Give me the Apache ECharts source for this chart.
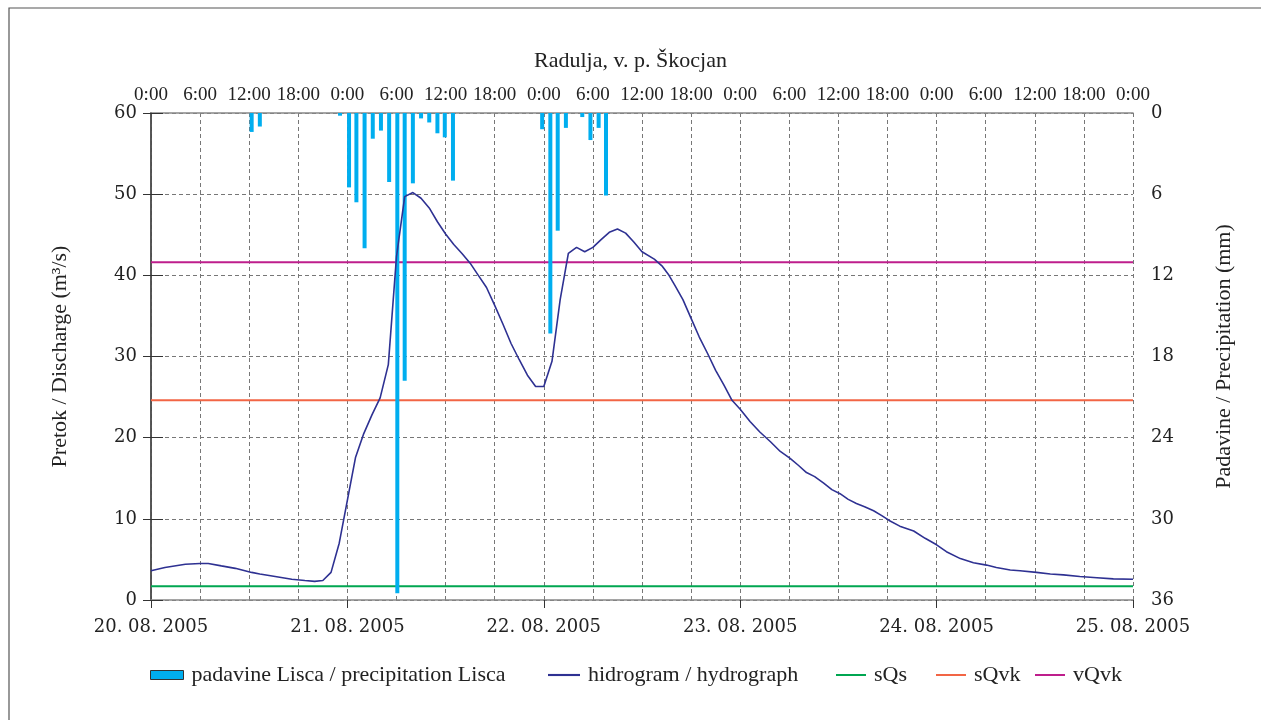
<!DOCTYPE html>
<html>
<head>
<meta charset="utf-8">
<script src="https://cdn.jsdelivr.net/npm/echarts@6/dist/echarts.min.js"></script>
<style>
html, body { margin: 0; padding: 0; background: #fff; }
#main { width: 1261px; height: 720px; }
</style>
</head>
<body>
<div id="main"></div>
<script>
// hours from 20.08.2005 0:00
var qHours = [0, 1.7, 4.2, 6, 7, 8.6, 10.3, 12.3, 13.3, 14.8, 17.2, 18.8, 20, 21, 22, 23, 24, 25, 26, 27, 28, 29, 30, 31, 32, 33, 34, 35, 36, 37, 38, 39, 40, 41, 42, 43, 44, 45, 46, 47, 48, 49, 50, 51, 52, 53, 54, 55, 56, 57, 58, 59, 60, 61.5, 62.5, 63.3, 64, 65, 66, 67, 68, 69, 70, 71, 72, 73.2, 74.4, 75.7, 76.9, 78.1, 79.1, 80.1, 81.1, 82.2, 83.2, 84.2, 85.2, 86.2, 87.2, 88.3, 89.3, 90.2, 91.5, 93.2, 94.6, 96, 97.2, 98.9, 100.5, 102.1, 103.3, 105, 106.2, 108.2, 109.9, 111.5, 113.5, 115.6, 117.6, 120];
var qValues = [3.6, 4.0, 4.4, 4.5, 4.5, 4.2, 3.9, 3.4, 3.2, 2.95, 2.55, 2.4, 2.3, 2.4, 3.4, 7.0, 12.3, 17.6, 20.5, 22.8, 24.9, 29.0, 42.3, 49.7, 50.2, 49.5, 48.3, 46.6, 45.1, 43.8, 42.7, 41.5, 40.0, 38.5, 36.3, 34.0, 31.6, 29.6, 27.7, 26.3, 26.3, 29.4, 37.0, 42.7, 43.45, 42.9, 43.45, 44.4, 45.3, 45.7, 45.2, 44.1, 42.9, 42.0, 41.1, 40.0, 38.8, 37.0, 34.7, 32.4, 30.4, 28.3, 26.5, 24.6, 23.5, 22.0, 20.7, 19.5, 18.3, 17.45, 16.6, 15.7, 15.2, 14.4, 13.6, 13.1, 12.4, 11.9, 11.5, 11.0, 10.4, 9.8, 9.1, 8.5, 7.6, 6.8, 5.95, 5.1, 4.6, 4.3, 4.0, 3.7, 3.6, 3.4, 3.2, 3.1, 2.9, 2.75, 2.6, 2.55];

var pHours = [12.3, 13.3, 23.1, 24.2, 25.1, 26.1, 27.1, 28.1, 29.1, 30.1, 31.0, 32.0, 33.0, 34.0, 35.0, 35.9, 36.9, 47.8, 48.8, 49.7, 50.7, 52.7, 53.7, 54.7, 55.6];
var pValues = [1.4, 1.0, 0.2, 5.5, 6.6, 10.0, 1.9, 1.3, 5.1, 35.5, 19.8, 5.2, 0.4, 0.7, 1.5, 1.8, 5.0, 1.2, 16.3, 8.7, 1.1, 0.3, 2.0, 1.1, 6.1];

var sQs = 1.7;
var sQvk = 24.6;
var vQvk = 41.6;

var dayLabels = ['20. 08. 2005', '21. 08. 2005', '22. 08. 2005', '23. 08. 2005', '24. 08. 2005', '25. 08. 2005'];
var hourLabels = ['0:00', '6:00', '12:00', '18:00'];

var serif = 'Liberation Serif';
var numFont = 'DejaVu Serif';
var lineIcon = 'path://M0,0L30,0L30,2L0,2Z';

function pairs(xs, ys) {
	var out = [];
	for (var i = 0; i < xs.length; i++) {
		out.push([xs[i], ys[i]]);
	}
	return out;
}

function legendAt(left, item, w) {
	return {
		left: left,
		top: 664,
		padding: 0,
		itemWidth: w,
		itemHeight: 9,
		symbolKeepAspect: true,
		textStyle: { fontFamily: serif, fontSize: 22, color: '#222', padding: [0, 0, 0, 3] },
		data: [item]
	};
}

var chart = echarts.init(document.getElementById('main'));
chart.setOption({
	animation: false,
	backgroundColor: '#fff',
	title: {
		text: 'Radulja, v. p. Škocjan',
		left: 'center',
		top: 45,
		textStyle: { fontFamily: serif, fontSize: 22, fontWeight: 'normal', color: '#222' }
	},
	graphic: [{
		type: 'rect',
		shape: { x: 9, y: 8, width: 1400, height: 900 },
		style: { fill: 'none', stroke: '#555', lineWidth: 1.2 }
	}],
	grid: { left: 151, right: 128, top: 113, bottom: 120 },
	legend: [
		legendAt(150, { name: 'padavine Lisca / precipitation Lisca', icon: 'rect', itemStyle: { borderColor: '#333', borderWidth: 1 } }, 33),
		legendAt(548, { name: 'hidrogram / hydrograph', icon: lineIcon }, 32),
		legendAt(836, { name: 'sQs', icon: lineIcon }, 30),
		legendAt(936, { name: 'sQvk', icon: lineIcon }, 30),
		legendAt(1035, { name: 'vQvk', icon: lineIcon }, 30)
	],
	xAxis: [{
		type: 'value',
		position: 'bottom',
		min: 0,
		max: 120,
		interval: 24,
		axisLine: { lineStyle: { color: '#888', width: 1.5 } },
		axisTick: { show: true, length: 8, lineStyle: { color: '#333' } },
		axisLabel: {
			margin: 18,
			fontFamily: numFont,
			fontSize: 18,
			color: '#222',
			formatter: function (v) { return dayLabels[Math.round(v / 24)]; }
		},
		splitLine: { show: false }
	}, {
		type: 'value',
		position: 'top',
		min: 0,
		max: 120,
		interval: 6,
		axisLine: { lineStyle: { color: '#888', width: 1.5 } },
		axisTick: { show: false },
		axisLabel: {
			margin: 8,
			fontFamily: serif,
			fontSize: 19,
			color: '#222',
			formatter: function (v) { return hourLabels[Math.round(v / 6) % 4]; }
		},
		splitLine: { show: true, lineStyle: { color: '#777', type: [4, 3], width: 1 } }
	}],
	yAxis: [{
		type: 'value',
		position: 'left',
		min: 0,
		max: 60,
		interval: 10,
		name: 'Pretok / Discharge (m³/s)',
		nameLocation: 'middle',
		nameGap: 80,
		nameTextStyle: { fontFamily: serif, fontSize: 22, color: '#222' },
		axisLine: { show: true, lineStyle: { color: '#333', width: 1.5 } },
		axisTick: { show: true, length: 8, lineStyle: { color: '#333' } },
		axisLabel: { margin: 14, fontFamily: numFont, fontSize: 18, color: '#222' },
		splitLine: { show: true, lineStyle: { color: '#777', type: [4, 3], width: 1 } }
	}, {
		type: 'value',
		position: 'right',
		min: 0,
		max: 36,
		interval: 6,
		inverse: true,
		name: 'Padavine / Precipitation (mm)',
		nameLocation: 'middle',
		nameGap: 80,
		nameRotate: 90,
		nameTextStyle: { fontFamily: serif, fontSize: 22, color: '#222' },
		axisLine: { show: true, lineStyle: { color: '#555', width: 1.5 } },
		axisTick: { show: true, length: 12, lineStyle: { color: '#333' } },
		axisLabel: { margin: 18, fontFamily: numFont, fontSize: 18, color: '#222' },
		splitLine: { show: false }
	}],
	series: [{
		name: 'padavine Lisca / precipitation Lisca',
		type: 'bar',
		xAxisIndex: 0,
		yAxisIndex: 1,
		barWidth: 4,
		itemStyle: { color: '#00AEEF' },
		data: pairs(pHours, pValues),
		z: 3
	}, {
		name: 'hidrogram / hydrograph',
		type: 'line',
		xAxisIndex: 0,
		yAxisIndex: 0,
		symbol: 'none',
		lineStyle: { color: '#2E3192', width: 1.6 },
		itemStyle: { color: '#2E3192' },
		data: pairs(qHours, qValues),
		z: 4
	}, {
		name: 'sQs',
		type: 'line',
		symbol: 'none',
		lineStyle: { color: '#00A651', width: 2 },
		itemStyle: { color: '#00A651' },
		data: [[0, sQs], [120, sQs]],
		z: 2
	}, {
		name: 'sQvk',
		type: 'line',
		symbol: 'none',
		lineStyle: { color: '#F26545', width: 2 },
		itemStyle: { color: '#F26545' },
		data: [[0, sQvk], [120, sQvk]],
		z: 2
	}, {
		name: 'vQvk',
		type: 'line',
		symbol: 'none',
		lineStyle: { color: '#BE1E8C', width: 2 },
		itemStyle: { color: '#BE1E8C' },
		data: [[0, vQvk], [120, vQvk]],
		z: 2
	}]
});
</script>
</body>
</html>
